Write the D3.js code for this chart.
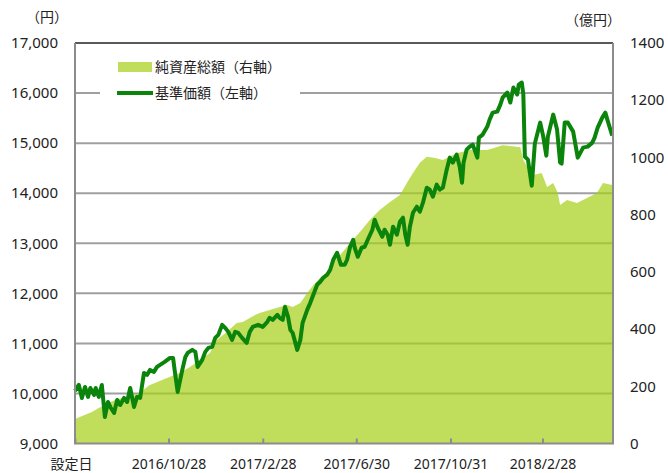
<!DOCTYPE html>
<html lang="ja">
<head>
<meta charset="UTF-8">
<title>基準価額・純資産総額の推移</title>
<script src="https://d3js.org/d3.v7.min.js"></script>
<style>
  body { margin: 0; background: #fff; }
  text { font-family: "Noto Sans", "Noto Sans CJK JP", sans-serif; fill: #222; }
  .jp { font-family: "Noto Sans CJK JP", sans-serif; }
  .num { font-size: 15px; }
</style>
</head>
<body>
<div id="chart"></div>
<script>
// setup date and last date of the period
const setupDate = new Date(2016, 5, 28);
const endDate = new Date(2018, 4, 31);

// x-axis labels and the dates they sit on
const xLabels = ["設定日", "2016/10/28", "2017/2/28", "2017/6/30", "2017/10/31", "2018/2/28"];
const xTickDates = [setupDate, new Date(2016, 9, 28), new Date(2017, 1, 28), new Date(2017, 5, 30), new Date(2017, 9, 31), new Date(2018, 1, 28)];

const leftTicks = [9000, 10000, 11000, 12000, 13000, 14000, 15000, 16000, 17000];
const rightTicks = [0, 200, 400, 600, 800, 1000, 1200, 1400];

// 基準価額 (円): days since setup, value
const navDays = [0, 5, 9, 13, 17, 20, 25, 27, 31, 35, 39, 43, 46, 51, 55, 59, 64, 68, 72, 77,
  81, 85, 90, 94, 98, 103, 107, 111, 117, 124, 128, 130, 134, 140, 144, 147, 153, 157, 160, 166,
  170, 174, 179, 183, 187, 192, 196, 200, 205, 209, 213, 218, 224, 228, 232, 239, 245, 251, 254, 258,
  264, 267, 271, 274, 278, 281, 284, 290, 294, 297, 303, 307, 311, 316, 320, 324, 329, 333, 337, 342,
  347, 352, 355, 359, 363, 365, 369, 374, 378, 382, 388, 391, 395, 401, 404, 408, 411, 415, 420, 424,
  428, 431, 434, 437, 441, 446, 450, 454, 459, 463, 467, 472, 476, 480, 485, 489, 493, 498, 502, 505,
  507, 511, 515, 519, 525, 527, 532, 538, 541, 545, 551, 555, 558, 564, 568, 572, 577, 579, 583, 585,
  587, 591, 596, 600, 607, 611, 615, 617, 624, 629, 633, 635, 639, 643, 650, 656, 663, 669, 675, 678,
  682, 688, 692, 695, 701];
const navValues = [10050, 10170, 9910, 10130, 9930, 10110, 9970, 10110, 9930, 10170, 9530, 9830, 9730, 9610, 9870, 9770, 9910, 9830, 10110, 9730,
  9930, 9910, 10410, 10370, 10470, 10430, 10530, 10570, 10630, 10710, 10710, 10470, 10030, 10470, 10730, 10810, 10870, 10830, 10530, 10670,
  10830, 10910, 10930, 11110, 11170, 11370, 11310, 11230, 11070, 11230, 11210, 11110, 11010, 11230, 11330, 11370, 11330, 11430, 11510, 11470,
  11570, 11510, 11470, 11730, 11530, 11270, 11210, 10870, 11070, 11410, 11670, 11810, 11970, 12170, 12230, 12310, 12370, 12470, 12670, 12810,
  12570, 12570, 12670, 12930, 13070, 12910, 12730, 12910, 12930, 13070, 13270, 13470, 13310, 13130, 13270, 13170, 12970, 13330, 13170, 13430,
  13510, 13170, 12970, 13330, 13610, 13730, 13630, 13810, 14110, 14070, 13930, 14170, 14070, 14110, 14470, 14710, 14610, 14770, 14530, 14210,
  14610, 14870, 14930, 14970, 14710, 15110, 15170, 15330, 15470, 15610, 15630, 15770, 15910, 16010, 15810, 16110, 15970, 16170, 16210, 15970,
  14730, 14670, 14150, 14990, 15410, 15130, 14750, 15130, 15570, 15270, 14610, 14590, 15410, 15410, 15230, 14710, 14910, 14930, 15010, 15110,
  15310, 15510, 15610, 15450, 15150];

// 純資産総額 (億円): days since setup, value
const assetDays = [0, 22, 31, 52, 84, 97, 120, 137, 150, 163, 176, 185, 198, 211, 219, 228, 235, 241, 254, 267,
  277, 284, 294, 303, 311, 320, 329, 337, 346, 359, 372, 385, 398, 411, 424, 433, 441, 450, 459, 470,
  480, 498, 515, 538, 558, 581, 585, 590, 598, 609, 616, 624, 630, 633, 642, 655, 668, 681, 689, 701];
const assetValues = [86, 110, 124, 152, 176, 204, 229, 247, 267, 292, 316, 362, 390, 421, 425, 439, 449, 456, 467, 477,
  484, 477, 491, 526, 554, 579, 600, 634, 659, 701, 740, 782, 817, 844, 869, 911, 946, 981, 1002, 998,
  991, 1015, 1026, 1026, 1043, 1036, 991, 967, 939, 946, 897, 911, 876, 834, 851, 841, 858, 876, 911, 904];

const margin = { top: 43, right: 55, bottom: 29.5, left: 75 },
      width = 668 - margin.left - margin.right,
      height = 473 - margin.top - margin.bottom;

const svg = d3.select("#chart")
  .append("svg")
  .attr("width", 668)
  .attr("height", 473)
  .append("g")
  .attr("transform", `translate(${margin.left},${margin.top})`);

const x = d3.scaleTime().domain([setupDate, endDate]).range([0, width]);
const yL = d3.scaleLinear().domain([9000, 17000]).range([height, 0]);
const yR = d3.scaleLinear().domain([0, 1400]).range([height, 0]);

const nav = navDays.map((d, i) => ({ date: d3.timeDay.offset(setupDate, d), v: navValues[i] }));
const assets = assetDays.map((d, i) => ({ date: d3.timeDay.offset(setupDate, d), v: assetValues[i] }));

// gridlines (behind the semi-transparent area)
svg.append("g")
   .selectAll("line")
   .data(leftTicks.slice(1, -1))
   .enter()
   .append("line")
   .attr("x1", 0)
   .attr("x2", width)
   .attr("y1", d => yL(d))
   .attr("y2", d => yL(d))
   .attr("stroke", "#a0a0a0")
   .attr("stroke-width", 2);

// net assets area
svg.append("path")
   .datum(assets)
   .attr("fill", "#a5d016")
   .attr("fill-opacity", 0.7)
   .attr("d", d3.area().x(d => x(d.date)).y0(height).y1(d => yR(d.v)));

// NAV line
svg.append("path")
   .datum(nav)
   .attr("fill", "none")
   .attr("stroke", "#0b840b")
   .attr("stroke-width", 4)
   .attr("stroke-linejoin", "round")
   .attr("d", d3.line().x(d => x(d.date)).y(d => yL(d.v)));

// plot frame
svg.append("line").attr("x1", 0).attr("x2", width).attr("y1", 0).attr("y2", 0)
   .attr("stroke", "#222").attr("stroke-width", 1.5);
svg.append("path")
   .attr("d", `M0,0V${height}H${width}V0`)
   .attr("fill", "none").attr("stroke", "#8c8c8c").attr("stroke-width", 2);

// x axis
const xAxis = svg.append("g")
   .attr("transform", `translate(0,${height})`)
   .call(d3.axisBottom(x).tickValues(xTickDates).tickFormat((d, i) => xLabels[i]).tickSize(-5).tickPadding(16));
xAxis.select(".domain").remove();
xAxis.selectAll("line").attr("stroke", "#8c8c8c").attr("stroke-width", 2);
xAxis.selectAll("text").attr("font-size", 14).attr("fill", "#222")
     .attr("class", (d, i) => i === 0 ? "jp" : null)
     .attr("x", (d, i) => i === 0 ? -4 : 0);

// left axis
svg.append("g")
   .selectAll("text")
   .data(leftTicks)
   .enter()
   .append("text")
   .attr("class", "num")
   .attr("x", -17)
   .attr("y", d => yL(d))
   .attr("dy", "0.35em")
   .attr("text-anchor", "end")
   .text(d => d3.format(",")(d));

// right axis
svg.append("g")
   .selectAll("text")
   .data(rightTicks)
   .enter()
   .append("text")
   .attr("class", "num")
   .attr("x", width + 17)
   .attr("y", d => yR(d))
   .attr("dy", "0.35em")
   .text(d => d);

// units
svg.append("text").attr("class", "jp").attr("font-size", 14)
   .attr("x", -28).attr("y", -21).attr("text-anchor", "middle").text("（円）");
svg.append("text").attr("class", "jp").attr("font-size", 14)
   .attr("x", width - 20).attr("y", -18).attr("text-anchor", "middle").text("（億円）");

// legend
const legend = svg.append("g").attr("transform", "translate(25,8)");
legend.append("rect").attr("width", 200).attr("height", 57).attr("fill", "#fff");
legend.append("rect").attr("x", 18).attr("y", 11).attr("width", 34).attr("height", 10)
      .attr("fill", "#a5d016").attr("fill-opacity", 0.7);
legend.append("text").attr("class", "jp").attr("font-size", 14)
      .attr("x", 55).attr("y", 16).attr("dy", "0.35em").text("純資産総額（右軸）");
legend.append("line").attr("x1", 17).attr("x2", 53).attr("y1", 42).attr("y2", 42)
      .attr("stroke", "#0b840b").attr("stroke-width", 4);
legend.append("text").attr("class", "jp").attr("font-size", 14)
      .attr("x", 55).attr("y", 42).attr("dy", "0.35em").text("基準価額（左軸）");
</script>
</body>
</html>
